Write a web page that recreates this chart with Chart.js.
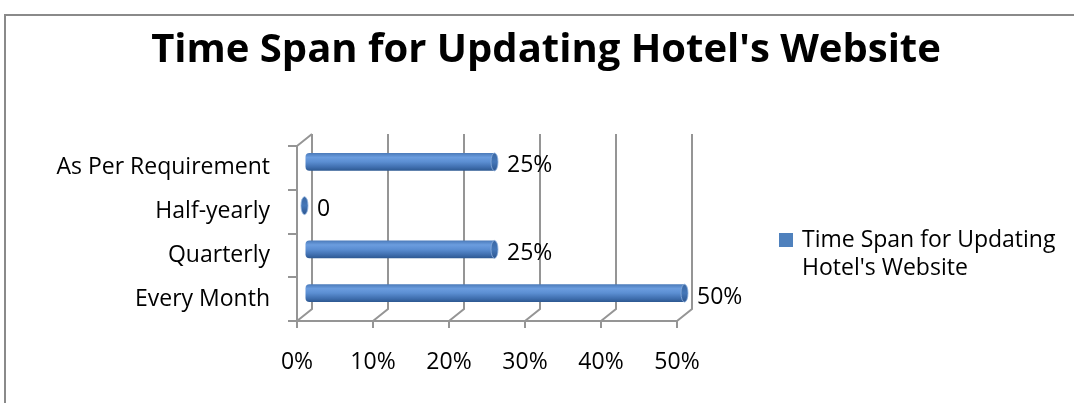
<!DOCTYPE html>
<html>
<head>
<meta charset="utf-8">
<script src="https://cdn.jsdelivr.net/npm/chart.js@4.4.0/dist/chart.umd.min.js"></script>
<style>
  html, body { margin: 0; padding: 0; background: #ffffff; }
  #wrap { width: 1074px; height: 403px; }
</style>
</head>
<body>
<div id="wrap"><canvas id="c" width="1074" height="403"></canvas></div>
<script>
// ---- data ----
const categories = ['Every Month', 'Quarterly', 'Half-yearly', 'As Per Requirement'];
const seriesName = "Time Span for Updating Hotel's Website";
const values = [0.50, 0.25, 0, 0.25];
const xTickLabels = ['0%', '10%', '20%', '30%', '40%', '50%'];

// ---- styling ----
const FONT = '"Open Sans", Lato, sans-serif';
const FS = 23;
const GRID = '#959595';
const BAR = '#4F81BD';
const DEPTH_X = 15, DEPTH_Y = -12;

function fmtLabel(v) { return v === 0 ? '0' : Math.round(v * 100) + '%'; }

function barGradient(c) {
  const chart = c.chart;
  const ys = chart.scales && chart.scales.y;
  if (!ys || c.dataIndex === undefined || !chart.chartArea) return BAR;
  const yc = ys.getPixelForValue(c.dataIndex);
  const half = 9;
  const g = chart.ctx.createLinearGradient(0, yc - half, 0, yc + half);
  g.addColorStop(0, '#4a79b8');
  g.addColorStop(0.25, '#6b9ddf');
  g.addColorStop(0.5, '#5b8ed2');
  g.addColorStop(0.8, '#3f6eae');
  g.addColorStop(1, '#2c5790');
  return g;
}

const depthPlugin = {
  id: 'depth',
  beforeDatasetsDraw(chart) {
    const { ctx, chartArea: a, scales: { x } } = chart;
    ctx.save();
    ctx.strokeStyle = GRID;
    ctx.lineWidth = 2;
    ctx.beginPath();
    x.ticks.forEach(t => {
      const px = x.getPixelForValue(t.value);
      ctx.moveTo(px, a.bottom);
      ctx.lineTo(px + DEPTH_X, a.bottom + DEPTH_Y);
      ctx.lineTo(px + DEPTH_X, a.top + DEPTH_Y);
    });
    ctx.moveTo(a.left, a.top);
    ctx.lineTo(a.left + DEPTH_X, a.top + DEPTH_Y);
    ctx.stroke();
    ctx.restore();
    ctx.save();
    ctx.translate(DEPTH_X / 2, DEPTH_Y / 2);
  },
  afterDatasetsDraw(chart) {
    const { ctx } = chart;
    const meta = chart.getDatasetMeta(0);
    meta.data.forEach(el => {
      const h = el.height / 2;
      const g = ctx.createLinearGradient(0, el.y - h, 0, el.y + h);
      g.addColorStop(0, '#3a67a3');
      g.addColorStop(0.5, '#4577b8');
      g.addColorStop(1, '#2d5690');
      ctx.beginPath();
      ctx.ellipse(el.x, el.y, 3.5, h, 0, 0, Math.PI * 2);
      ctx.fillStyle = g;
      ctx.fill();
      ctx.lineWidth = 1;
      ctx.strokeStyle = 'rgba(140,175,220,0.8)';
      ctx.stroke();
    });
    ctx.restore();
    const { scales: { x, y } } = chart;
    ctx.save();
    ctx.font = FS + 'px ' + FONT;
    ctx.fillStyle = '#000';
    ctx.textAlign = 'left';
    ctx.textBaseline = 'middle';
    chart.data.datasets[0].data.forEach((v, i) => {
      ctx.fillText(fmtLabel(v), x.getPixelForValue(v) + 20, y.getPixelForValue(i) - 2);
    });
    ctx.restore();
  },
  afterDraw(chart) {
    const { ctx } = chart;
    const ds = chart.data.datasets[0];
    ctx.save();
    ctx.fillStyle = BAR;
    ctx.fillRect(779, 233, 14, 14);
    ctx.font = FS + 'px ' + FONT;
    ctx.fillStyle = '#000';
    ctx.textAlign = 'left';
    ctx.textBaseline = 'middle';
    const words = ds.label.split(' ');
    const lines = [];
    let cur = '';
    words.forEach(w => {
      const t = cur ? cur + ' ' + w : w;
      if (ctx.measureText(t).width > 268 && cur) { lines.push(cur); cur = w; } else cur = t;
    });
    if (cur) lines.push(cur);
    lines.forEach((l, i) => ctx.fillText(l, 802, 240 + i * 28));
    ctx.strokeStyle = '#8a8a8a';
    ctx.lineWidth = 2;
    ctx.strokeRect(5, 15, 1200, 600);
    ctx.restore();
  }
};

new Chart(document.getElementById('c'), {
  type: 'bar',
  data: {
    labels: categories,
    datasets: [{
      label: seriesName,
      data: values,
      backgroundColor: barGradient,
      borderWidth: 0,
      borderSkipped: false,
      borderRadius: { topLeft: 4, bottomLeft: 4, topRight: 0, bottomRight: 0 },
      barPercentage: 0.41,
      categoryPercentage: 1
    }]
  },
  options: {
    indexAxis: 'y',
    responsive: false,
    animation: false,
    layout: { padding: { left: 18, right: 0, top: 0, bottom: 0 } },
    plugins: {
      legend: { display: false },
      tooltip: { enabled: false },
      title: {
        display: true,
        text: seriesName,
        color: '#000',
        font: { family: FONT, size: 40, weight: 'bold' },
        padding: { top: 27, bottom: 71 }
      }
    },
    scales: {
      x: {
        min: 0, max: 0.5,
        ticks: {
          stepSize: 0.1,
          callback: (v, i) => xTickLabels[i],
          color: '#000',
          font: { family: FONT, size: FS },
          padding: 21,
          maxRotation: 0
        },
        grid: { drawOnChartArea: false, tickLength: 7, color: GRID, lineWidth: 2 },
        border: { color: GRID, width: 2 },
        afterFit: s => { s.height = 82; }
      },
      y: {
        reverse: true,
        ticks: { color: '#000', font: { family: FONT, size: FS }, padding: 18 },
        grid: { drawOnChartArea: false, tickLength: 9, color: GRID, lineWidth: 2, offset: true },
        border: { color: GRID, width: 2 },
        afterFit: s => { s.width = 279; }
      },
      y2: {
        type: 'linear', position: 'right', display: true, min: 0, max: 1,
        ticks: { display: false },
        grid: { display: false, drawTicks: false },
        border: { display: false },
        afterFit: s => { s.width = 397; }
      }
    }
  },
  plugins: [depthPlugin]
});
</script>
</body>
</html>
